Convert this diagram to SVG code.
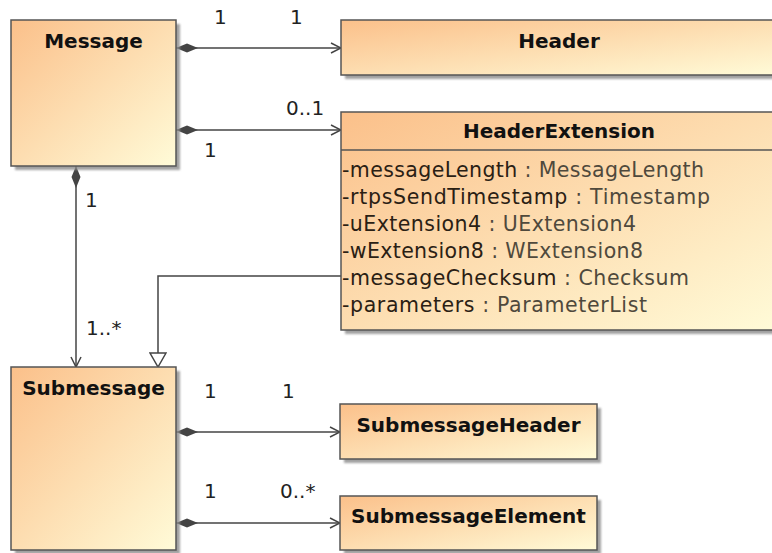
<svg xmlns="http://www.w3.org/2000/svg" width="772" height="553" viewBox="0 0 772 553">
<defs>
<linearGradient id="fillg" x1="0" y1="0" x2="1" y2="1">
<stop offset="0" stop-color="#fbc08a"/>
<stop offset="1" stop-color="#fffbd8"/>
</linearGradient>
<filter id="blur" x="-10%" y="-10%" width="130%" height="130%"><feGaussianBlur stdDeviation="1.2"/></filter>
<marker id="open" viewBox="0 0 12 12" refX="11" refY="6" markerWidth="12" markerHeight="12" markerUnits="userSpaceOnUse" orient="auto">
<path d="M1,1 L11,6 L1,11" fill="none" stroke="#444" stroke-width="1.5"/>
</marker>
<marker id="diamond" viewBox="0 0 22 10" refX="0" refY="5" markerWidth="22" markerHeight="10" markerUnits="userSpaceOnUse" orient="auto">
<path d="M0,5 L11,0.5 L22,5 L11,9.5 Z" fill="#444"/>
</marker>
<marker id="tri" viewBox="0 0 16 18" refX="15" refY="9" markerWidth="16" markerHeight="18" markerUnits="userSpaceOnUse" orient="auto">
<path d="M1,1 L15,9 L1,17 Z" fill="#fff" stroke="#444" stroke-width="1.5"/>
</marker>
</defs>
<style>
.shadow{fill:#8a8a8a;filter:url(#blur);opacity:0.8}
.box{fill:url(#fillg);stroke:#555;stroke-width:1.5}
.title{font-family:"DejaVu Sans",sans-serif;font-weight:bold;font-size:20px;fill:#111;text-anchor:middle}
.attr{font-family:"DejaVu Sans",sans-serif;font-size:20.5px;fill:#2a2014}
.type{fill:#4f493c}
.mult{font-family:"DejaVu Sans",sans-serif;font-size:20px;fill:#222}
.conn{fill:none;stroke:#444;stroke-width:1.5}
</style>
<rect width="772" height="553" fill="#fff"/>

<g id="connectors">
<line class="conn" x1="176" y1="48" x2="341" y2="48" marker-start="url(#diamond)" marker-end="url(#open)"/>
<line class="conn" x1="176" y1="130" x2="341" y2="130" marker-start="url(#diamond)" marker-end="url(#open)"/>
<line class="conn" x1="76" y1="166" x2="76" y2="367" marker-start="url(#diamond)" marker-end="url(#open)"/>
<polyline class="conn" points="341,276 158,276 158,367" marker-end="url(#tri)"/>
<line class="conn" x1="176" y1="432" x2="340" y2="432" marker-start="url(#diamond)" marker-end="url(#open)"/>
<line class="conn" x1="176" y1="523" x2="340" y2="523" marker-start="url(#diamond)" marker-end="url(#open)"/>
<text class="mult" x="214" y="24">1</text>
<text class="mult" x="290" y="24">1</text>
<text class="mult" x="286" y="115">0..1</text>
<text class="mult" x="204" y="157">1</text>
<text class="mult" x="85" y="207">1</text>
<text class="mult" x="86" y="335">1..*</text>
<text class="mult" x="204" y="398">1</text>
<text class="mult" x="282" y="398">1</text>
<text class="mult" x="204" y="498">1</text>
<text class="mult" x="280" y="498">0..*</text>
</g>

<g id="Message">
<rect class="shadow" x="15" y="24" width="165" height="146"/>
<rect class="box" x="11" y="20" width="165" height="146"/>
<text class="title" x="93.5" y="48">Message</text>
</g>

<g id="Header">
<rect class="shadow" x="345" y="24" width="436" height="55"/>
<rect class="box" x="341" y="20" width="436" height="55"/>
<text class="title" x="559" y="48">Header</text>
</g>

<g id="HeaderExtension">
<rect class="shadow" x="345" y="116" width="436" height="218"/>
<rect class="box" x="341" y="112" width="436" height="218"/>
<line x1="341" y1="150" x2="777" y2="150" stroke="#555" stroke-width="1.5"/>
<text class="title" x="559" y="138">HeaderExtension</text>
<text class="attr" x="342" y="177" textLength="362" lengthAdjust="spacing">-messageLength<tspan class="type"> : MessageLength</tspan></text>
<text class="attr" x="342" y="204" textLength="368" lengthAdjust="spacing">-rtpsSendTimestamp<tspan class="type"> : Timestamp</tspan></text>
<text class="attr" x="342" y="231" textLength="294" lengthAdjust="spacing">-uExtension4<tspan class="type"> : UExtension4</tspan></text>
<text class="attr" x="342" y="258" textLength="301" lengthAdjust="spacing">-wExtension8<tspan class="type"> : WExtension8</tspan></text>
<text class="attr" x="342" y="285" textLength="347" lengthAdjust="spacing">-messageChecksum<tspan class="type"> : Checksum</tspan></text>
<text class="attr" x="342" y="312" textLength="305" lengthAdjust="spacing">-parameters<tspan class="type"> : ParameterList</tspan></text>
</g>

<g id="Submessage">
<rect class="shadow" x="15" y="371" width="165" height="183"/>
<rect class="box" x="11" y="367" width="165" height="183"/>
<text class="title" x="93.5" y="395">Submessage</text>
</g>

<g id="SubmessageHeader">
<rect class="shadow" x="344" y="408" width="257" height="55"/>
<rect class="box" x="340" y="404" width="257" height="55"/>
<text class="title" x="468.5" y="432">SubmessageHeader</text>
</g>

<g id="SubmessageElement">
<rect class="shadow" x="344" y="500" width="257" height="54"/>
<rect class="box" x="340" y="496" width="257" height="54"/>
<text class="title" x="468.5" y="523">SubmessageElement</text>
</g>
</svg>
